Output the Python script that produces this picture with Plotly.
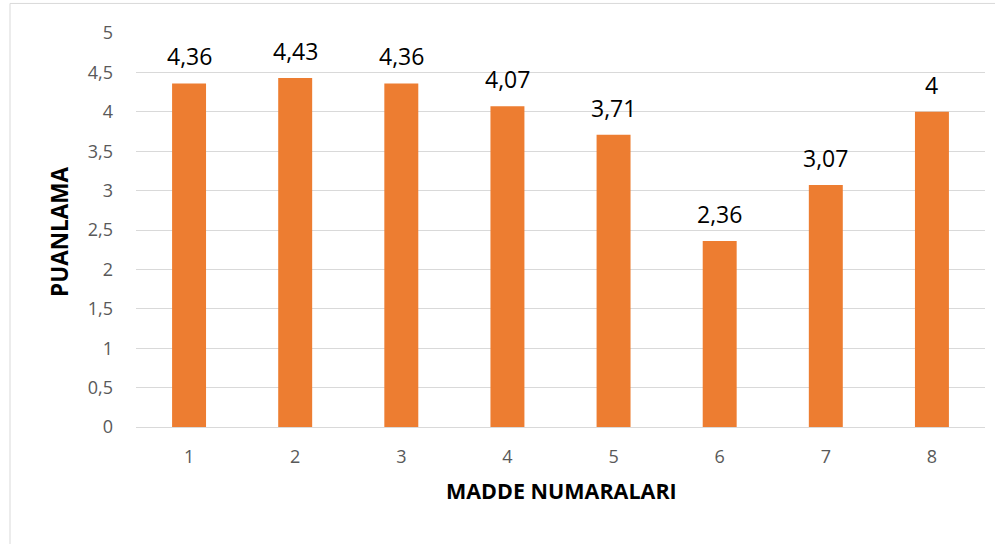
import plotly.graph_objects as go

categories = ["1", "2", "3", "4", "5", "6", "7", "8"]
values = [4.36, 4.43, 4.36, 4.07, 3.71, 2.36, 3.07, 4.0]
y_ticks = [0, 0.5, 1, 1.5, 2, 2.5, 3, 3.5, 4, 4.5, 5]

def fmt(v):
    s = ("%g" % v)
    return s.replace(".", ",")

labels = [fmt(v) for v in values]

fig = go.Figure()
fig.add_trace(go.Bar(
    x=categories, y=values,
    marker=dict(color="#ED7D31", line=dict(width=0)),
    hoverinfo="skip",
))

for i, (v, t) in enumerate(zip(values, labels)):
    fig.add_annotation(x=i, y=v, xref="x", yref="y", text=t, showarrow=False, yanchor="bottom",
                       yshift=9, font=dict(size=23, color="#000000", family="Open Sans"))

fig.add_annotation(x=0.5006, y=-0.161, xref="paper", yref="paper", text="<b>MADDE NUMARALARI</b>",
                   showarrow=False, xanchor="center", yanchor="middle",
                   font=dict(size=21.5, color="#000000", family="Open Sans"))
fig.add_annotation(x=-0.0895, y=0.495, xref="paper", yref="paper", text="<b>PUANLAMA</b>",
                   showarrow=False, xanchor="center", yanchor="middle", textangle=-90,
                   font=dict(size=22.5, color="#000000", family="Open Sans"))

fig.update_layout(
    width=995, height=544,
    margin=dict(l=136, r=10, t=33, b=117, autoexpand=False),
    paper_bgcolor="white", plot_bgcolor="white",
    separators=", ",
    bargap=0.68,
    showlegend=False,
    font=dict(family="Open Sans", color="#595959"),
    xaxis=dict(
        type="category", automargin=False,
        tickfont=dict(size=18, color="#595959"),
        showgrid=False, showline=False, ticks="",
        ticklabelstandoff=17,
    ),
    yaxis=dict(
        range=[0, 5], tickvals=y_ticks, automargin=False,
        tickfont=dict(size=18, color="#595959"),
        showgrid=True, gridcolor="#D9D9D9", gridwidth=1,
        zeroline=True, zerolinecolor="#D9D9D9", zerolinewidth=1,
        showline=False, ticks="",
        ticklabelstandoff=22,
    ),
)

fig.add_shape(type="rect", xref="paper", yref="paper",
              x0=-0.1484, x1=1.02, y0=-0.31, y1=1.075,
              line=dict(color="#D9D9D9", width=1), fillcolor="rgba(0,0,0,0)", layer="below")

fig.write_html("out.html", config={"displayModeBar": False},
               post_script="document.body.style.margin='0';")
